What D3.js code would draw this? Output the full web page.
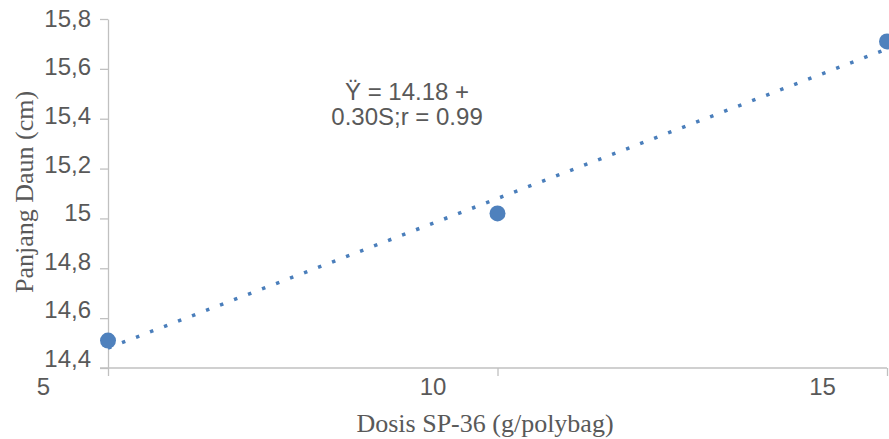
<!DOCTYPE html>
<html>
<head>
<meta charset="utf-8">
<script src="https://cdn.jsdelivr.net/npm/d3@7"></script>
<style>
  body { margin: 0; background: #fff; }
  .axis path, .axis line { stroke: #c0c0c0; stroke-width: 1.3; }
  .axis text { fill: #595959; font-family: Arial, "Liberation Sans", sans-serif; font-size: 24px; }
  .title { fill: #595959; font-family: "Times New Roman", "Liberation Serif", serif; font-size: 26px; }
  .note { fill: #595959; font-family: Arial, "Liberation Sans", sans-serif; font-size: 24px; }
</style>
</head>
<body>
<svg id="chart"></svg>
<script>

// data
var dosis = [5, 10, 15];
var panjang = [14.51, 15.02, 15.71];
var yTicks = [14.4, 14.6, 14.8, 15, 15.2, 15.4, 15.6, 15.8];
var xTicks = [5, 10, 15];
var noteLines = ["Ÿ = 14.18 +", "0.30S;r = 0.99"];

// set the dimensions and margins of the graph
var margin = {top: 19, right: 2, bottom: 71, left: 108},
    width = 889 - margin.left - margin.right,
    height = 439 - margin.top - margin.bottom;

// set the ranges
var x = d3.scaleLinear().domain([5, 15]).range([0, width]);
var y = d3.scaleLinear().domain([14.4, 15.8]).range([height, 0]);
// tick labels sit a little closer together than the ticks
var yLabel = d3.scaleLinear().domain([14.4, 15.8]).range([height - 10, -1]);

var fmt = function(d) { return String(d).replace(".", ","); };

var svg = d3.select("#chart")
    .attr("width", 889)
    .attr("height", 439)
  .append("g")
    .attr("transform", "translate(" + margin.left + "," + margin.top + ")");

// Y axis
var gy = svg.append("g")
    .attr("class", "axis")
    .call(d3.axisLeft(y).tickValues(yTicks).tickSize(8).tickSizeOuter(0).tickFormat(fmt));
gy.selectAll(".tick text")
    .attr("x", -17)
    .attr("dy", "0.35em")
    .attr("transform", function(d) { return "translate(0," + (yLabel(d) - y(d)) + ")"; });

// X axis
var gx = svg.append("g")
    .attr("class", "axis")
    .attr("transform", "translate(0," + height + ")")
    .call(d3.axisBottom(x).tickValues(xTicks).tickSize(8).tickSizeOuter(0));
gx.selectAll(".tick text")
    .attr("x", -65)
    .attr("y", 10);
gx.select(".domain").attr("d", "M-8,0H" + width);

// linear trend line (least squares)
var mx = d3.mean(dosis), my = d3.mean(panjang);
var slope = d3.sum(dosis, function(d, i) { return (d - mx) * (panjang[i] - my); }) /
            d3.sum(dosis, function(d) { return (d - mx) * (d - mx); });
var icpt = my - slope * mx;
var trend = d3.extent(dosis).map(function(d) { return {x: d, y: icpt + slope * d}; });

svg.append("path")
    .datum(trend)
    .attr("fill", "none")
    .attr("stroke", "#4a7ebb")
    .attr("stroke-width", 3.5)
    .attr("stroke-dasharray", "3.5,11.5")
    .attr("d", d3.line()
        .x(function(d) { return x(d.x); })
        .y(function(d) { return y(d.y); }));

// points
svg.selectAll(".dot")
    .data(dosis)
  .enter().append("circle")
    .attr("class", "dot")
    .attr("r", 8)
    .attr("fill", "#4f81bd")
    .attr("cx", function(d) { return x(d); })
    .attr("cy", function(d, i) { return y(panjang[i]); });

// equation label
svg.append("text")
    .attr("class", "note")
    .attr("text-anchor", "middle")
    .attr("transform", "translate(" + (407 - margin.left) + "," + (100 - margin.top) + ")")
  .selectAll("tspan")
    .data(noteLines)
  .enter().append("tspan")
    .attr("x", 0)
    .attr("dy", function(d, i) { return i ? 25 : 0; })
    .text(function(d) { return d; });

// axis titles
svg.append("text")
    .attr("class", "title")
    .attr("text-anchor", "middle")
    .attr("x", 485 - margin.left)
    .attr("y", 432 - margin.top)
    .text("Dosis SP-36 (g/polybag)");

svg.append("text")
    .attr("class", "title")
    .attr("text-anchor", "middle")
    .attr("transform", "translate(" + (33 - margin.left) + "," + (192 - margin.top) + ") rotate(-90)")
    .text("Panjang Daun (cm)");

</script>
</body>
</html>
